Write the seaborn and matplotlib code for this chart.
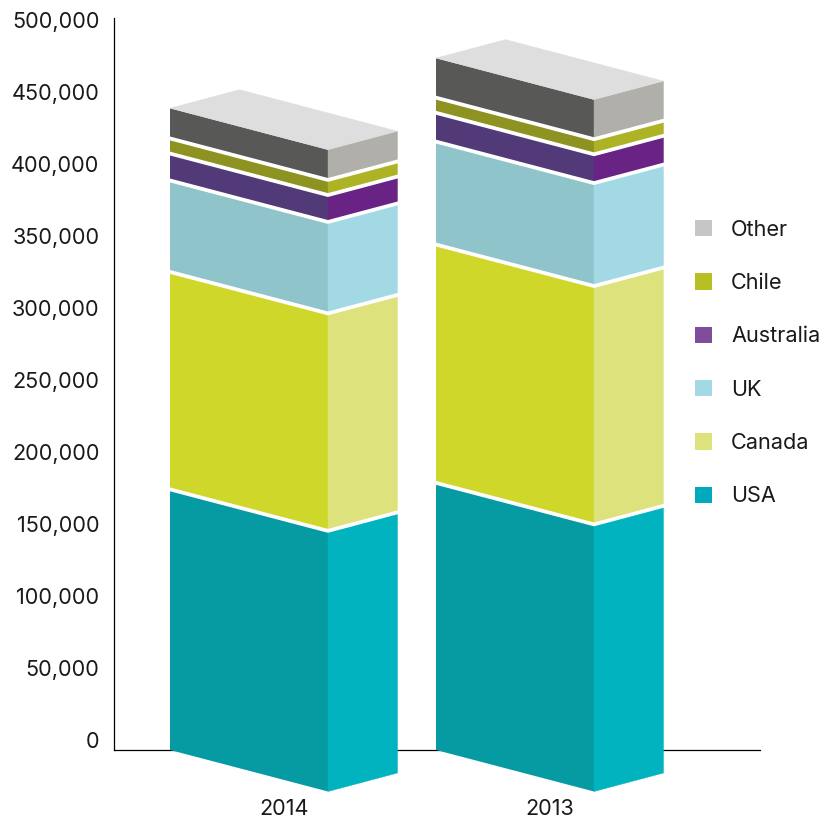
import matplotlib
matplotlib.use("Agg")
import matplotlib.pyplot as plt
import numpy as np
import seaborn as sns
from matplotlib.patches import Polygon, Patch
from matplotlib.transforms import Affine2D, ScaledTranslation

# ---- data ----
years = ["2014", "2013"]
countries = ["USA", "Canada", "UK", "Australia", "Chile", "Other"]
usa = [181000, 185500]
canada = [151000, 165500]
uk = [63500, 71500]
australia = [18700, 20000]
chile = [10500, 10500]
other = [21000, 27500]
series = [usa, canada, uk, australia, chile, other]
yticks = list(range(0, 500001, 50000))

# ---- styles ----
front_cols = ["#069aa3", "#d0d72b", "#8fc4cb", "#523a78", "#8e9220", "#585857"]
side_cols = ["#00b3bf", "#dee27d", "#a3d8e5", "#682384", "#aeb325", "#b0afaa"]
legend_cols = ["#00a9bc", "#dee27d", "#a3d8e5", "#7f4d9a", "#b7bf25", "#c6c6c6"]
top_col = "#dedede"
txt = "#1a1a1a"

sns.set_theme(style="white")
plt.rcParams["font.family"] = ["Inter", "DejaVu Sans"]

W, H = 833, 819
fig = plt.figure(figsize=(W / 100, H / 100), dpi=100)
ax = fig.add_axes([114 / W, 1 - 750 / H, (760 - 114) / W, (750 - 18) / H])

px_y = 1000 / 1.44      # data units per pixel, vertical
bar_w = 158 / 266       # bar width on the category scale
side_w = 69.5 / 266     # depth of the side face on the category scale
drop = 41.5 * px_y      # front face falls this far left-to-right
rise = 18.5 * px_y      # side face climbs this far

bottoms = np.zeros(len(years))
for vals, fc in zip(series, front_cols):
    sns.barplot(x=years, y=vals, order=years, bottom=bottoms, color=fc, saturation=1,
                width=bar_w, errorbar=None, ax=ax, zorder=3, linewidth=0, clip_on=False)
    bottoms = bottoms + np.array(vals)

ax.set_xlim(-135 / 266, 511 / 266)
ax.set_ylim(0, 732 * px_y)

rects = list(ax.patches)
k = drop / bar_w
i = 0
for s, vals in enumerate(series):
    for b in range(len(years)):
        r = rects[i]
        i += 1
        xl = r.get_x()
        xr = xl + r.get_width()
        y0 = r.get_y()
        y1 = y0 + r.get_height()
        # shear the library's bar to form the front face
        r.set_transform(Affine2D(np.array([[1, 0, 0], [-k, 1, k * xl], [0, 0, 1]])) + ax.transData)
        r.set_clip_on(False)
        # side face
        ax.add_patch(Polygon([(xr, y0 - drop), (xr + side_w, y0 - drop + rise),
                              (xr + side_w, y1 - drop + rise), (xr, y1 - drop)],
                             closed=True, fc=side_cols[s], ec=side_cols[s], lw=0.3,
                             zorder=3, clip_on=False))
        if s < len(series) - 1:
            # white separator above this segment
            ax.plot([xl, xr, xr + side_w], [y1, y1 - drop, y1 - drop + rise],
                    color="white", lw=2.7, zorder=5, clip_on=False,
                    solid_joinstyle="miter", solid_capstyle="projecting")
        else:
            ax.add_patch(Polygon([(xl, y1), (xr, y1 - drop), (xr + side_w, y1 - drop + rise),
                                  (xl + side_w, y1 + rise)],
                                 closed=True, fc=top_col, ec=top_col, lw=0.3,
                                 zorder=3, clip_on=False))

# axes
sns.despine(ax=ax)
for sp in ("left", "bottom"):
    ax.spines[sp].set_color("black")
    ax.spines[sp].set_linewidth(0.9)
    ax.spines[sp].set_zorder(2)

fs = 15.6
ax.set_yticks(yticks)
ax.set_yticklabels([f"{v:,}" for v in yticks], fontsize=fs, color=txt)
ax.tick_params(axis="y", length=0, pad=10.5, left=False)
lift = ScaledTranslation(0, 10 / 100, fig.dpi_scale_trans)
for lab in ax.get_yticklabels():
    lab.set_transform(lab.get_transform() + lift)

ax.set_xticks(np.arange(len(years)) + side_w / 2)
ax.set_xticklabels(years, fontsize=fs, color=txt)
ax.tick_params(axis="x", length=0, pad=35, bottom=False)
ax.set_xlabel("")
ax.set_ylabel("")

# legend
handles = [Patch(fc=c, ec="none") for c in legend_cols[::-1]]
leg = fig.legend(handles, countries[::-1], loc="center left",
                 bbox_to_anchor=(695 / W, 1 - 363 / H), frameon=False,
                 fontsize=fs, labelcolor=txt, borderpad=0, borderaxespad=0,
                 handlelength=12.2 / fs, handleheight=12.2 / fs,
                 handletextpad=13.7 / fs, labelspacing=1.54)

fig.savefig("out.png", dpi=100, facecolor="white")
